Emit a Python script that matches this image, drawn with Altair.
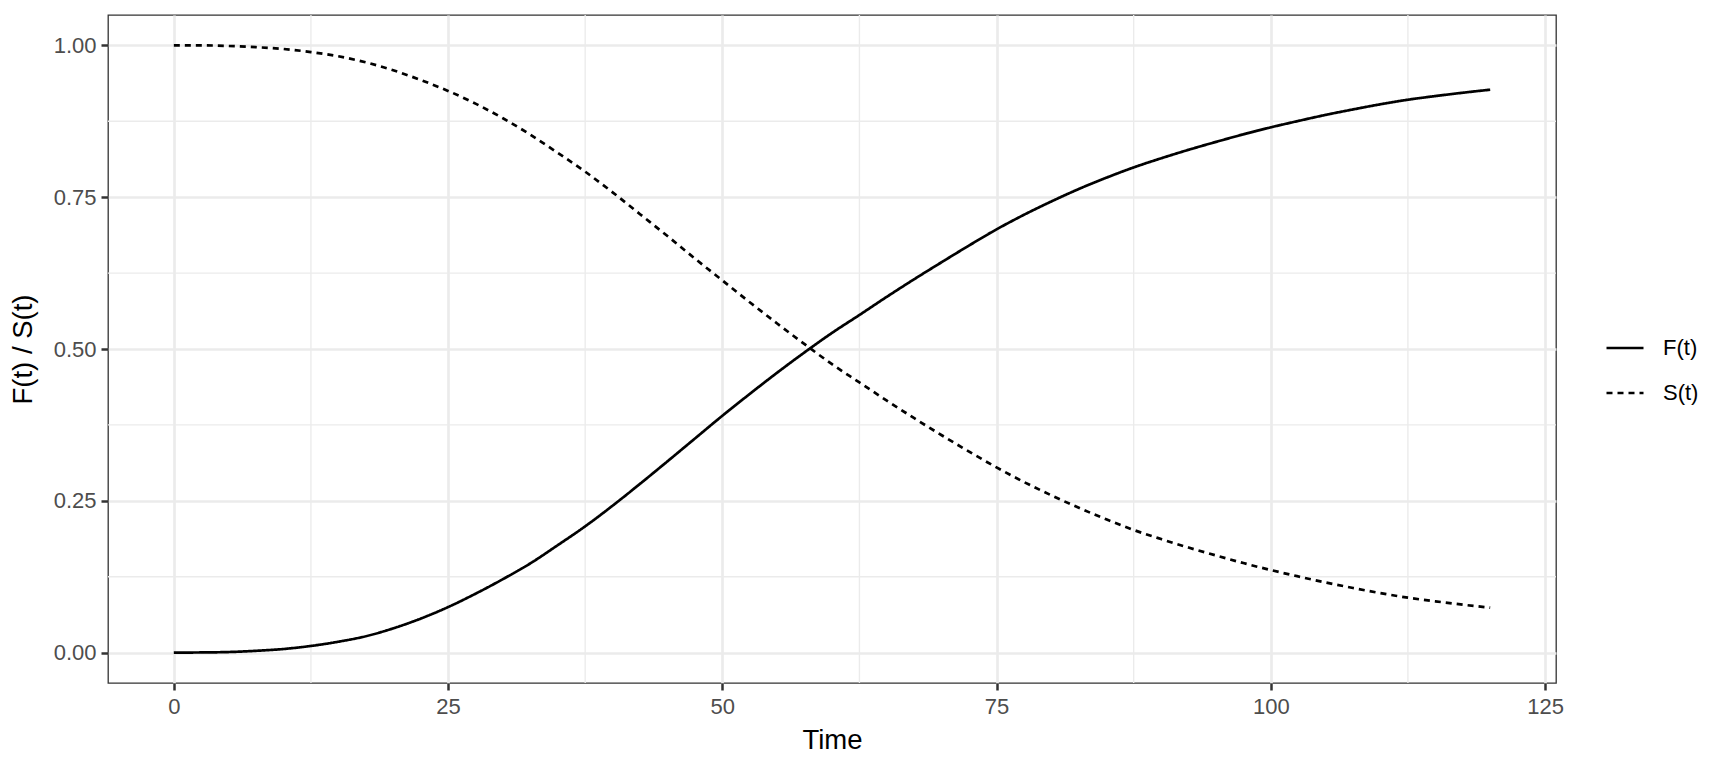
import altair as alt
import pandas as pd

time = [0, 2.5, 5, 7.5, 10, 12.5, 15, 17.5, 20, 22.5, 25, 27.5, 30, 32.5, 35, 37.5,
        40, 42.5, 45, 47.5, 50, 52.5, 55, 57.5, 60, 62.5, 65, 67.5, 70, 72.5, 75,
        77.5, 80, 82.5, 85, 87.5, 90, 92.5, 95, 97.5, 100, 102.5, 105, 107.5, 110,
        112.5, 115, 117.5, 120]

F_vals = [0.000, 0.0003, 0.001, 0.003, 0.006, 0.011, 0.018, 0.027, 0.040, 0.056,
          0.075, 0.097, 0.121, 0.147, 0.177, 0.208, 0.242, 0.278, 0.315, 0.3525,
          0.390, 0.426, 0.461, 0.4945, 0.5265, 0.556, 0.586, 0.615, 0.643, 0.6705,
          0.697, 0.721, 0.743, 0.7635, 0.782, 0.799, 0.814, 0.828, 0.841, 0.8535,
          0.865, 0.8755, 0.8855, 0.8945, 0.903, 0.9105, 0.9165, 0.922, 0.927]

S_vals = [1.000, 1.000, 0.999, 0.997, 0.994, 0.989, 0.982, 0.972, 0.959, 0.943,
          0.925, 0.904, 0.880, 0.853, 0.823, 0.792, 0.758, 0.722, 0.686, 0.649,
          0.613, 0.577, 0.542, 0.508, 0.475, 0.445, 0.415, 0.386, 0.358, 0.331,
          0.305, 0.281, 0.259, 0.2385, 0.2195, 0.202, 0.187, 0.173, 0.160, 0.1475,
          0.136, 0.1255, 0.1155, 0.1065, 0.098, 0.0905, 0.0845, 0.079, 0.074]

series_labels = ["F(t)", "S(t)"]
x_breaks = [0, 25, 50, 75, 100, 125]
x_minor = [12.5, 37.5, 62.5, 87.5, 112.5]
y_breaks = [0.0, 0.25, 0.5, 0.75, 1.0]
y_minor = [0.125, 0.375, 0.625, 0.875]

n = len(time)
df = pd.DataFrame({
    "Time": time + time,
    "value": F_vals + S_vals,
    "series": [series_labels[0]] * n + [series_labels[1]] * n,
})
df_xminor = pd.DataFrame({"Time": x_minor})
df_yminor = pd.DataFrame({"value": y_minor})

FONT = "Liberation Sans"
xscale = alt.Scale(domain=[-6, 126], nice=False, zero=False)
yscale = alt.Scale(domain=[-0.05, 1.05], nice=False, zero=False)

xaxis = alt.Axis(values=x_breaks, format="d", title="Time", labelFlush=False,
                 labelOverlap=False, tickSize=7, labelPadding=6, titlePadding=9)
yaxis = alt.Axis(values=y_breaks, format=".2f", title="F(t) / S(t)", labelFlush=False,
                 labelOverlap=False, tickSize=7, labelPadding=5, titlePadding=16)

xminor_layer = alt.Chart(df_xminor).mark_rule(color="#EBEBEB", strokeWidth=1.35).encode(
    x=alt.X("Time:Q", scale=xscale, axis=xaxis)
)
yminor_layer = alt.Chart(df_yminor).mark_rule(color="#EBEBEB", strokeWidth=1.35).encode(
    y=alt.Y("value:Q", scale=yscale, axis=yaxis)
)

lines = alt.Chart(df).mark_line(color="black", strokeWidth=2.7, interpolate="monotone").encode(
    x=alt.X("Time:Q", scale=xscale, axis=xaxis),
    y=alt.Y("value:Q", scale=yscale, axis=yaxis),
    strokeDash=alt.StrokeDash(
        "series:N",
        scale=alt.Scale(domain=series_labels, range=[[1, 0], [6, 5]]),
        legend=alt.Legend(
            title=None, orient="none", legendX=1497, legendY=313,
            symbolType="stroke", symbolSize=1369, symbolStrokeWidth=2.7,
            symbolStrokeColor="black", labelFontSize=22, labelColor="black",
            labelFont=FONT, labelOffset=18, rowPadding=14, padding=0,
        ),
    ),
    detail="series:N",
)

chart = alt.layer(xminor_layer, yminor_layer, lines).properties(
    width=1448, height=668,
    autosize=alt.AutoSizeParams(type="none"),
    padding={"left": 100, "top": 7, "right": 164, "bottom": 77},
).configure_view(
    stroke="#333333", strokeWidth=1.3
).configure_axis(
    grid=True, gridColor="#EBEBEB", gridWidth=2.7, domain=False,
    tickColor="#333333", tickWidth=2.5,
    labelFont=FONT, labelFontSize=22, labelColor="#4D4D4D",
    titleFont=FONT, titleFontSize=27.5, titleFontWeight="normal", titleColor="black",
)

chart.save("out.html", embed_options={"renderer": "svg", "actions": False})
